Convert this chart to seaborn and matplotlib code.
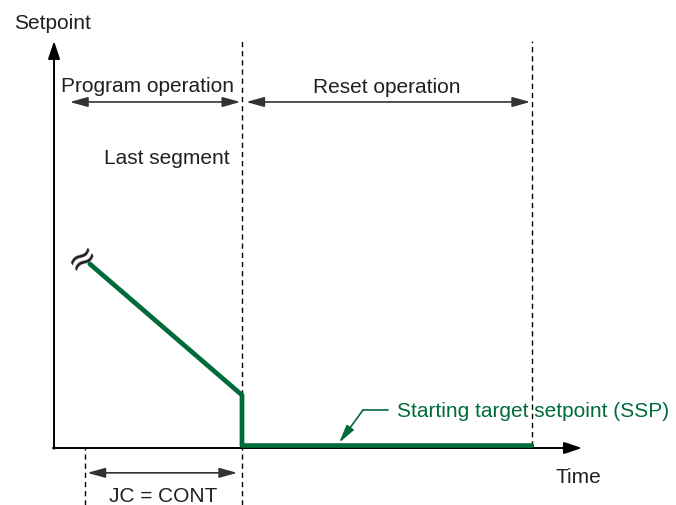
import numpy as np
import pandas as pd
import matplotlib.pyplot as plt
import seaborn as sns

# Setpoint profile (time units 0-100 along the axis, setpoint 0-100)
time = [6.8, 35.6, 35.6, 90.5]
setpoint = [45.2, 13.0, 0.6, 0.6]

end_of_program = 35.6
end_of_reset = 90.5
jc_start = 5.9

labels = {
    "y": "Setpoint",
    "x": "Time",
    "program": "Program operation",
    "reset": "Reset operation",
    "last": "Last segment",
    "jc": "JC = CONT",
    "ssp": "Starting target setpoint (SSP)",
}

green = "#006B3A"
ink = "#231F20"

sns.set_theme(style="white")
plt.rcParams["font.family"] = ["Liberation Sans", "DejaVu Sans"]

fig = plt.figure(figsize=(6.76, 5.06), dpi=100)
ax = fig.add_axes([0, 0, 1, 1])
ax.set_xlim(-10.23, 117.8)
ax.set_ylim(-14.0, 110.3)
ax.axis("off")

df = pd.DataFrame({"time": time, "setpoint": setpoint})
sns.lineplot(data=df, x="time", y="setpoint", sort=False, estimator=None,
             color=green, lw=3.4, ax=ax, zorder=5)

# axes with arrow heads
head = dict(arrowstyle="-|>,head_length=0.9,head_width=0.3", color="black",
            lw=1.4, shrinkA=0, shrinkB=0)
ax.annotate("", xy=(0, 100), xytext=(0, -0.2), arrowprops=head)
ax.annotate("", xy=(100, 0), xytext=(-0.2, 0), arrowprops=head)

# dashed separators
dash = dict(color="black", lw=1.0, linestyle=(0, (3.8, 2.8)))
ax.plot([end_of_program, end_of_program], [-14, 100], **dash)
ax.plot([end_of_reset, end_of_reset], [0.6, 100], **dash)
ax.plot([jc_start, jc_start], [-14, 0], **dash)

# double arrows
dbl = dict(arrowstyle="<|-|>,head_length=0.9,head_width=0.25", color="#333333",
           lw=1.2, shrinkA=0, shrinkB=0)
ax.annotate("", xy=(3.0, 85.0), xytext=(35.3, 85.0), arrowprops=dbl)
ax.annotate("", xy=(36.4, 85.0), xytext=(90.2, 85.0), arrowprops=dbl)
ax.annotate("", xy=(6.3, -6.1), xytext=(34.7, -6.1), arrowprops=dbl)

fs = 15
ax.text(17.8, 87.7, labels["program"], ha="center", va="baseline", fontsize=fs, color=ink)
ax.text(63.0, 87.4, labels["reset"], ha="center", va="baseline", fontsize=fs, color=ink)
ax.text(33.3, 70.0, labels["last"], ha="right", va="baseline", fontsize=fs, color=ink)
ax.text(-7.6, 103.2, labels["y"], ha="left", va="baseline", fontsize=fs, color=ink)
ax.text(94.9, -8.4, labels["x"], ha="left", va="baseline", fontsize=fs, color=ink)
ax.text(20.7, -13.1, labels["jc"], ha="center", va="baseline", fontsize=fs, color=ink)
ax.text(65.0, 7.9, labels["ssp"], ha="left", va="baseline", fontsize=fs, color=green)

# leader line for SSP
ax.plot([63.3, 58.5], [9.3, 9.3], color=green, lw=1.2)
ax.annotate("", xy=(54.0, 1.3), xytext=(58.5, 9.3),
            arrowprops=dict(arrowstyle="-|>,head_length=0.9,head_width=0.22",
                            color=green, lw=1.2, shrinkA=0, shrinkB=0))

# break mark at the start of the segment
ax.text(5.4, 46.8, "\u2248", ha="center", va="center", fontsize=26,
        rotation=35, color=ink, family=["DejaVu Sans"])

fig.savefig("out.png", dpi=100)
